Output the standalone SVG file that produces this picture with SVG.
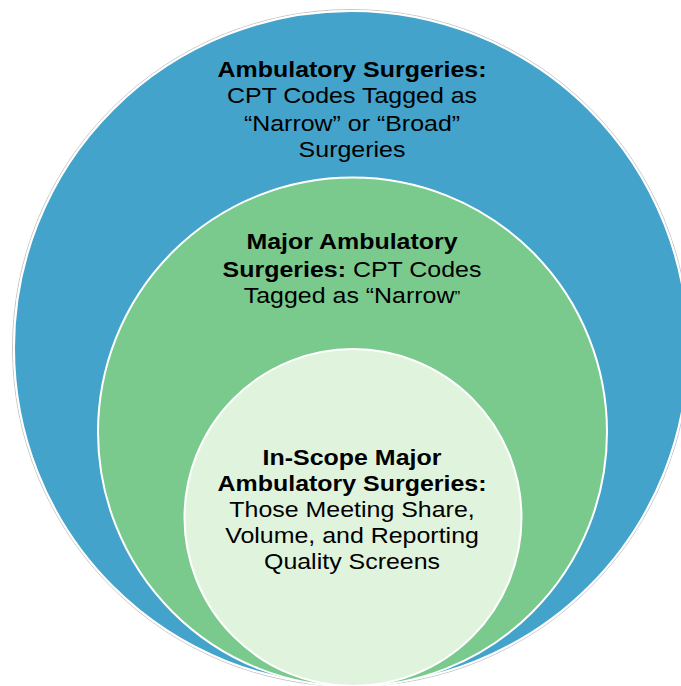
<svg xmlns="http://www.w3.org/2000/svg" width="681" height="686" viewBox="0 0 681 686">
<style>
.t{font-family:"Liberation Sans",Arial,sans-serif;font-size:23px;fill:#000;text-anchor:middle}
.b{font-weight:bold}
.ring{stroke:#fff;stroke-width:2}
</style>
<rect width="681" height="686" fill="#fff"/>
<g id="outer">
<circle cx="351" cy="348" r="338.5" fill="none" stroke="#c8c8c8" stroke-width="1"/>
<circle class="ring" cx="351" cy="348" r="337" fill="#43A3CB"/>
<g transform="translate(352,0) scale(1.085,1)">
<text class="t b" x="0" y="77">Ambulatory Surgeries:</text>
<text class="t" x="0" y="103">CPT Codes Tagged as</text>
<text class="t" x="0" y="131">“Narrow” or “Broad”</text>
<text class="t" x="0" y="157">Surgeries</text>
</g>
</g>
<g id="middle">
<circle class="ring" cx="352.5" cy="432" r="254.5" fill="#7ACA8E"/>
<g transform="translate(352,0) scale(1.085,1)">
<text class="t b" x="0" y="249">Major Ambulatory</text>
<text class="t" x="0" y="277"><tspan class="b">Surgeries:</tspan> CPT Codes</text>
<text class="t" x="0" y="303">Tagged as “Narrow<tspan font-size="16">”</tspan></text>
</g>
</g>
<g id="inner">
<circle class="ring" cx="353" cy="517.5" r="168.5" fill="#E0F4DD"/>
<g transform="translate(352,0) scale(1.085,1)">
<text class="t b" x="0" y="465">In-Scope Major</text>
<text class="t b" x="0" y="491">Ambulatory Surgeries:</text>
<text class="t" x="0" y="517">Those Meeting Share,</text>
<text class="t" x="0" y="543">Volume, and Reporting</text>
<text class="t" x="0" y="569">Quality Screens</text>
</g>
</g>
<g id="connectors"></g>
</svg>
